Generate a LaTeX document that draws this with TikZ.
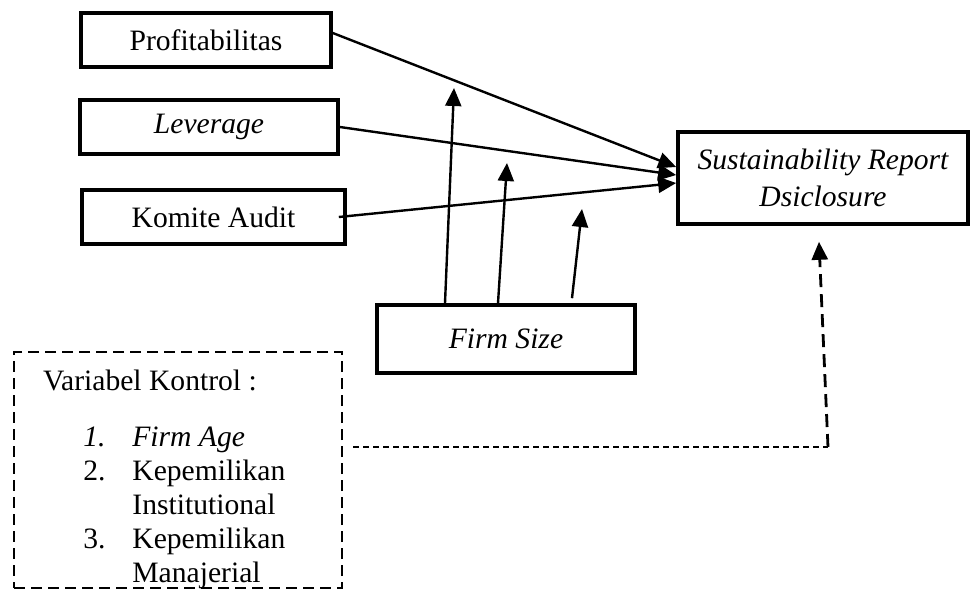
\documentclass[tikz,border=0pt]{standalone}
\usepackage{fontspec}
\setmainfont{Liberation Serif}
\usetikzlibrary{arrows.meta}

\tikzset{
  varbox/.style={draw=black, line width=1.8pt, inner sep=0pt},
  link/.style={line width=1.2pt, -{Triangle[length=9pt,width=8pt]}},
  ctrlbox/.style={draw=black, line width=1.4pt, dash pattern=on 5.5pt off 3pt, inner sep=0pt},
  ctrlline/.style={line width=0.6pt, dash pattern=on 3pt off 2pt},
  ctrllink/.style={line width=1.4pt, dash pattern=on 6.5pt off 3.5pt, -{Triangle[length=9pt,width=8pt]}}
}

\begin{document}
\begin{tikzpicture}[x=0.5pt,y=-0.5pt, every node/.style={font=\fontsize{14.8pt}{17pt}\selectfont}]
\useasboundingbox (0,0) rectangle (971,590);

% independent variables
\node[varbox, minimum width=125pt, minimum height=27pt] (prof) at (206,40) {Profitabilitas};
\node[varbox, minimum width=129pt, minimum height=27pt] (lev) at (209,127) {\textit{Leverage}};
\node[varbox, minimum width=131.5pt, minimum height=27pt] (kom) at (213.5,217) {Komite Audit};

% dependent variable
\node[varbox, minimum width=145pt, minimum height=46pt, align=center,
      font=\fontsize{14.8pt}{18.5pt}\selectfont\itshape] (srd) at (823,178) {Sustainability Report\\Dsiclosure};

% moderating variable
\node[varbox, minimum width=129pt, minimum height=34pt] (firm) at (506,339) {\textit{Firm Size}};

% control variables
\node[ctrlbox, minimum width=164pt, minimum height=118pt] (ctrl) at (178,470) {};
\node[anchor=base west] (ctrlhead) at (36,390) {Variabel Kontrol :};
\node[anchor=base west, inner sep=0pt] (ctrllist) at (83,446) {%
  \begin{tabular}[t]{@{}p{24.5pt}@{}l@{}}
  \textit{1.} & \textit{Firm Age}\\
  2. & Kepemilikan\\
     & Institutional\\
  3. & Kepemilikan\\
     & Manajerial
  \end{tabular}};

\draw[link] ([yshift=3.5pt]prof.east) -- ([yshift=5.5pt]srd.west);
\draw[link] (lev.east) -- ([yshift=1.5pt]srd.west);
\draw[link] ([xshift=-4pt]kom.east) -- ([yshift=-2.5pt]srd.west);

\coordinate (mod1) at (454,88);
\coordinate (mod2) at (507,163);
\coordinate (mod3) at (582,209);
\draw[link] ([xshift=-30.5pt]firm.north) -- (mod1);
\draw[link] ([xshift=-4pt]firm.north) -- (mod2);
\draw[link] ([xshift=33pt,yshift=2.5pt]firm.north) -- (mod3);

\coordinate (cbend) at (828,447);
\draw[ctrlline] ([xshift=5pt,yshift=11.5pt]ctrl.east) -- (cbend);
\draw[ctrllink] (cbend) -- ([xshift=-2pt,yshift=-8pt]srd.south);
\end{tikzpicture}
\end{document}
